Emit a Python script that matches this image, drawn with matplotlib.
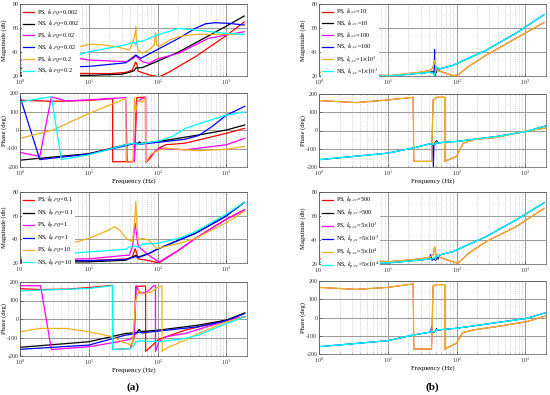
import matplotlib.pyplot as plt
from matplotlib.ticker import LogLocator, NullFormatter

plt.rcParams['font.family'] = ['Liberation Serif', 'DejaVu Serif']
plt.rcParams['mathtext.fontset'] = 'stix'
plt.rcParams['axes.unicode_minus'] = False

colors = ['#FF0000', '#000000', '#FF00FF', '#0000FF', '#EDB120', '#00FFFF']

labels_a1 = [r'PS, $k_{i,PQ}$=0.002', r'NS, $k_{i,PQ}$=0.002', r'PS, $k_{i,PQ}$=0.02',
             r'NS, $k_{i,PQ}$=0.02', r'PS, $k_{i,PQ}$=0.2', r'NS, $k_{i,PQ}$=0.2']
labels_a2 = [r'PS, $k_{p,PQ}$=0.1', r'NS, $k_{p,PQ}$=0.1', r'PS, $k_{p,PQ}$=1',
             r'NS, $k_{p,PQ}$=1', r'PS, $k_{p,PQ}$=10', r'NS, $k_{p,PQ}$=10']
labels_b1 = [r'PS, $k_{i,cc}$=10', r'NS, $k_{i,cc}$=10', r'PS, $k_{i,cc}$=100',
             r'NS, $k_{i,cc}$=100', r'PS, $k_{i,cc}$=1$\times10^{3}$', r'NS, $k_{i,cc}$=1$\times10^{3}$']
labels_b2 = [r'PS, $k_{p,cc}$=500', r'NS, $k_{p,cc}$=500', r'PS, $k_{p,cc}$=5$\times10^{3}$',
             r'NS, $k_{p,cc}$=5$\times10^{3}$', r'PS, $k_{p,cc}$=5$\times10^{4}$', r'NS, $k_{p,cc}$=5$\times10^{4}$']

# ---- (a) top : magnitude (dB) , points are (Hz, value)
a1_mag_red = [(1, 22.8), (5, 22.2), (20, 22), (35, 23), (43, 25), (48, 31.7), (50, 30), (52, 24), (57, 23.3),
              (75, 21), (105, 19.2), (150, 23.5), (203, 28), (354, 36), (961, 53), (1824, 65)]
a1_mag_black = [(1, 20.6), (10, 20.5), (30, 21.5), (38.7, 23), (46, 24.5), (48.3, 26.7), (60, 27), (97, 32),
                (203, 40), (354, 47.5), (961, 61), (1824, 70)]
a1_mag_magenta = [(1, 32.8), (1.5, 37), (2.2, 39), (4, 37), (10, 33.3), (34.6, 32), (38.7, 33), (45, 35),
                  (48.3, 37), (52, 35), (60, 32), (75, 30.5), (97, 34), (203, 39), (552, 51.4), (1824, 56.9)]
a1_mag_blue = [(1, 26.4), (10, 28), (34.6, 31), (38.7, 33), (48.3, 37.5), (57, 34.7), (97, 41.7), (203, 51.4),
               (354, 59.7), (500, 63.5), (689, 64.4), (1072, 63.9), (1824, 62.5)]
a1_mag_orange = [(1, 29.2), (2.2, 34.7), (4.7, 41.7), (10.2, 46.4), (16, 46), (24.8, 44.4), (38.7, 41.7),
                 (43.2, 47), (47.5, 56), (48.3, 61), (49.2, 50), (52, 41.7), (60, 38.9), (75, 41.7), (90, 46),
                 (93.8, 56), (97, 46), (105, 44.4), (150, 50), (203, 52.8), (354, 54.7), (1824, 54.7)]
a1_mag_cyan = [(1, 24.2), (10.2, 40.3), (34.6, 46), (38.7, 47.2), (46, 48), (48.3, 46), (50, 49), (60, 49),
               (97, 54), (203, 59.7), (354, 58.3), (961, 55.6), (1824, 54.7)]

# ---- (a) top : phase (deg)
a1_ph_red = [(1, 161), (3, 155), (10, 160), (22.2, 170), (22.3, -172), (45, -170), (47, -100), (50, 175),
             (67, 178), (67.1, -175), (75, -160), (90, -120), (104.5, -98), (130.6, -80), (253, -71),
             (395, -54), (1000, -18), (1855, 9)]
a1_ph_black = [(1, -163), (10, -128), (34.4, -80), (45, -75), (48, -68), (50, -80), (54, -65), (58, -72),
               (104.5, -62), (395, -27), (1000, 0), (1855, 27)]
a1_ph_magenta = [(1, -121), (1.94, -143), (2.86, 179), (4.71, 157), (10, 163), (34.4, 175), (36.3, -175),
                 (46, -170), (49, 150), (60, 170), (67, 175), (67.1, -175), (80, -140), (104.5, -98),
                 (253, -107), (1000, -80), (1855, -45)]
a1_ph_blue = [(1, 180), (1.94, -160), (10, -130), (34.4, -85), (48, -70), (52, -78), (104.5, -66), (253, -50),
              (395, -30), (617, 18), (1000, 80), (1855, 128)]
a1_ph_orange = [(1, -45), (3.02, 0), (10, 89), (34.4, 170), (35, -175), (44, -170), (46, 175), (48, 100),
                (52, 160), (60, 150), (66.5, 175), (67.1, -175), (80, -130), (104.5, -110), (130, -98),
                (253, -107), (395, -112), (1000, -104), (1855, -89)]
a1_ph_cyan = [(1, 152), (2.86, 180), (3.99, -160), (10, -134), (34.4, -80), (48, -70), (50, -78),
              (104.5, -59), (163, -36), (253, 9), (494, 45), (1000, 80), (1855, 98)]

# ---- (a) bottom : magnitude
a2_mag_red = [(1, 22.8), (10, 22), (34.6, 23.4), (43, 25), (47.2, 32), (50, 28), (52.1, 23.5), (75, 22),
              (104.7, 20), (203, 30.8), (354, 40.8), (961, 56.4), (1824, 64.9)]
a2_mag_black = [(1, 20.8), (10, 21), (34.6, 22.3), (38.7, 23.7), (48.3, 26.5), (52, 25), (75.2, 28), (97, 31.4),
                (203, 39.3), (354, 45), (961, 59.2), (1824, 71.2)]
a2_mag_magenta = [(1, 22.8), (10, 23.5), (34.6, 26.5), (38.7, 26.5), (43.2, 33.6), (47.2, 53.5), (52.1, 35),
                  (57, 32.2), (75, 26.5), (104.7, 20.8), (203, 30.8), (354, 40.8), (961, 56.4), (1824, 64.9)]
a2_mag_blue = [(1, 21.7), (10, 22), (34.6, 23), (38.7, 23.7), (48.3, 25.5), (52, 24.5), (75.2, 28), (97, 31.4),
               (203, 39.3), (354, 45), (961, 59.2), (1824, 71.2)]
a2_mag_orange = [(1, 23.7), (10, 40.8), (19.9, 48), (23.5, 50.7), (28, 48), (35, 40.8), (43.2, 38), (46.5, 55),
                 (48.3, 72), (50, 55), (52.1, 39.3), (60.2, 40.8), (75.2, 39.3), (97, 32.2), (203, 36.5),
                 (354, 40.8), (961, 53.5), (1824, 63.5)]
a2_mag_cyan = [(1, 24.5), (10, 29.4), (34.6, 31.6), (38.7, 33.6), (48.3, 34.5), (52, 33), (60.2, 36),
               (97, 36.5), (203, 40.8), (354, 46.4), (961, 60.7), (1824, 71.2)]

# ---- (a) bottom : phase
a2_ph_red = [(1, 164), (2, 159), (5, 162), (10, 170), (22.2, 182), (22.3, -165), (40, -160), (45.6, -100),
             (48.2, 175), (67, 178), (67.1, -175), (80, -150), (104.5, -110), (253, -60), (1000, -6), (1855, 12)]
a2_ph_black = [(1, -153), (10, -123), (34.4, -78), (45, -75), (50, -72), (53.9, -57), (58, -68),
               (104.5, -60), (395, -33), (1000, -6), (1855, 33)]
a2_ph_magenta = [(1, 180), (1.99, 180), (2.86, -165), (10, -150), (30, -120), (40, -110), (46, -90),
                 (49, 180), (55, 140), (70, 145), (88, 180), (93.4, 180), (93.5, -175), (104.5, -123),
                 (130.6, -96), (253, -78), (1000, -10), (1855, 12)]
a2_ph_blue = [(1, -164), (10, -141), (34.4, -87), (48, -80), (53.9, -70), (60, -75), (104.5, -65),
              (395, -42), (1000, -10), (1855, 30)]
a2_ph_orange = [(1, -69), (1.94, -51), (4.71, -51), (10, -69), (22.2, -96), (30, -123), (43, -141),
                (48.2, 100), (53.9, 155), (60, 137), (80, 145), (104.5, 175), (116, 178), (116.8, -175),
                (130.6, -160), (253, -114), (395, -78), (1000, -15), (1855, 12)]
a2_ph_cyan = [(1, 152), (10, 165), (20, 178), (22, 182), (22.1, -165), (40, -160), (46, -140), (48, -120),
              (52, -125), (55, -115), (60, -120), (104.5, -123), (253, -105), (395, -87), (1000, -24), (1855, 12)]

# ---- (b) top : magnitude (PS curves lie on top of each other, NS curves too)
b1_mag_ps = [(1, 23.1), (10.7, 20.3), (29.1, 23.1), (40.6, 24.5), (45.4, 27), (48, 33), (50.7, 26),
             (53.6, 24.5), (63.4, 23.1), (88.4, 20.3), (104.5, 20.8), (150, 28), (269, 37.3), (733, 51.4),
             (1884, 64.7)]
b1_mag_black = [(1, 20.3), (10.7, 20), (29.1, 22.3), (40.6, 23.1), (45, 24), (50, 22), (53.6, 26),
                (56.7, 25.9), (88.4, 28.8), (269, 41.5), (733, 55.7), (1884, 71.2)]
b1_mag_blue = [(1, 20.3), (10.7, 20), (29.1, 22.3), (40.6, 23.1), (47, 22), (48, 42), (48.5, 19), (50, 26),
               (56.7, 25.9), (88.4, 28.8), (269, 41.5), (733, 55.7), (1884, 71.2)]
b1_mag_ns = [(1, 20.3), (10.7, 20), (29.1, 22.3), (40.6, 23.1), (46, 22), (48, 19.4), (50, 28), (56.7, 25.9),
             (88.4, 28.8), (269, 41.5), (733, 55.7), (1884, 71.2)]

# ---- (b) top : phase
b1_ph_ps = [(1, 164), (3.5, 153), (10, 167), (23.4, 182), (23.9, -169), (43.3, -169), (45.6, 167), (51.2, 182),
            (67.5, 182), (67.6, -169), (100, -142), (115, -95), (125, -70), (175, -50), (380, -38),
            (1044, -2), (1971, 13)]
b1_ph_black = [(1, -160), (10, -124), (23.4, -96), (41, -73), (46, -80), (51, -55), (55, -68), (67.5, -64),
               (100, -60), (380, -33), (1044, -5), (1971, 25)]
b1_ph_blue = [(1, -160), (10, -124), (23.4, -96), (41, -73), (45, -75), (46, -205), (47, -80), (51, -70),
              (67.5, -64), (100, -60), (380, -33), (1044, -5), (1971, 25)]
b1_ph_ns = [(1, -160), (10, -124), (23.4, -96), (41, -73), (48, -75), (51, -70), (67.5, -64), (100, -60),
            (380, -33), (1044, -5), (1971, 25)]

# ---- (b) bottom : magnitude
b2_mag_ps = [(1, 24.2), (10.7, 22), (29.1, 24.2), (40.6, 25.6), (46, 28), (48, 34.4), (50, 28), (56.7, 25.6),
             (88.4, 21.9), (104.5, 20.6), (150, 29), (269, 38.6), (733, 51.1), (1884, 66.4)]
b2_mag_black = [(1, 21.4), (10.7, 21), (29.1, 23.3), (45, 24.5), (50, 23), (53, 26.5), (56.7, 27.5),
                (88.4, 30.3), (269, 42.8), (733, 56.7), (1884, 71.1)]
b2_mag_blue = [(1, 21.4), (10.7, 21), (29.1, 23.3), (40, 24), (42, 28), (44, 23), (48, 25), (52, 27),
               (54, 24), (56.7, 27.5), (88.4, 30.3), (269, 42.8), (733, 56.7), (1884, 71.1)]
b2_mag_ns = [(1, 21.4), (10.7, 21), (29.1, 23.3), (45, 24.5), (56.7, 27.5), (88.4, 30.3), (269, 42.8),
             (733, 56.7), (1884, 71.1)]

# ---- (b) bottom : phase
b2_ph_ps = [(1, 165), (3.5, 154), (10, 165), (23.4, 184), (23.9, -173), (43.3, -173), (45.6, 173), (51.2, 180),
            (67.5, 180), (67.6, -173), (100, -141), (115, -100), (125, -82), (175, -68), (380, -50),
            (1044, -23), (1971, 8)]
b2_ph_black = [(1, -160), (10, -127), (23.4, -96), (43.3, -78), (48, -78), (51, -60), (54, -70), (67.5, -65),
               (100, -59), (380, -28), (1044, -5), (1971, 26)]
b2_ph_blue = [(1, -160), (10, -127), (23.4, -96), (42, -80), (43.5, -50), (45, -82), (48, -78), (51, -68),
              (67.5, -65), (100, -59), (380, -28), (1044, -5), (1971, 26)]
b2_ph_ns = [(1, -160), (10, -127), (23.4, -96), (43.3, -78), (48, -78), (51, -68), (67.5, -65), (100, -59),
            (380, -28), (1044, -5), (1971, 26)]


def style(ax, ylim, yticks, ylabel):
    ax.set_xscale('log')
    ax.set_xlim(1, 2000)
    ax.set_ylim(*ylim)
    ax.set_yticks(yticks)
    ax.xaxis.set_minor_locator(LogLocator(base=10, subs=range(2, 10)))
    ax.xaxis.set_minor_formatter(NullFormatter())
    ax.grid(True, which='major', color='#9a9a9a', lw=0.7)
    ax.grid(True, which='minor', color='#b5b5b5', lw=0.5, ls=':')
    ax.set_axisbelow(True)
    ax.tick_params(which='both', direction='in', labelsize=4.3, pad=1.2, length=2, width=0.4, colors='#333333')
    ax.tick_params(which='minor', length=1)
    for s in ax.spines.values():
        s.set_color('#555555')
        s.set_linewidth(0.5)
    ax.set_ylabel(ylabel, fontsize=4.8)
    ax.yaxis.set_label_coords(-0.058, 0.5)


def draw(ax, curves, widths):
    for pts, c, w in zip(curves, colors, widths):
        ax.plot([p[0] for p in pts], [p[1] for p in pts], color=c, lw=w)


fig = plt.figure(figsize=(5.5, 3.95), dpi=100)
W, H = 550.0, 395.0


def make_ax(x0, x1, y0, y1):
    return fig.add_axes([x0 / W, 1 - y1 / H, (x1 - x0) / W, (y1 - y0) / H])


w_a = [0.9] * 6
w_b = [0.6, 0.6, 0.6, 0.8, 1.0, 1.0]   # lower curves hidden under the last two

panels = [
    ((20, 247), (4, 76), (93, 167),
     [a1_mag_red, a1_mag_black, a1_mag_magenta, a1_mag_blue, a1_mag_orange, a1_mag_cyan],
     [a1_ph_red, a1_ph_black, a1_ph_magenta, a1_ph_blue, a1_ph_orange, a1_ph_cyan], labels_a1, w_a),
    ((20, 247), (192, 263), (282, 356),
     [a2_mag_red, a2_mag_black, a2_mag_magenta, a2_mag_blue, a2_mag_orange, a2_mag_cyan],
     [a2_ph_red, a2_ph_black, a2_ph_magenta, a2_ph_blue, a2_ph_orange, a2_ph_cyan], labels_a2, w_a),
    ((319, 546), (4, 76), (94, 167),
     [b1_mag_ps, b1_mag_black, b1_mag_ps, b1_mag_blue, b1_mag_ps, b1_mag_ns],
     [b1_ph_ps, b1_ph_black, b1_ph_ps, b1_ph_blue, b1_ph_ps, b1_ph_ns], labels_b1, w_b),
    ((319, 546), (192, 264), (281, 354),
     [b2_mag_ps, b2_mag_black, b2_mag_ps, b2_mag_blue, b2_mag_ps, b2_mag_ns],
     [b2_ph_ps, b2_ph_black, b2_ph_ps, b2_ph_blue, b2_ph_ps, b2_ph_ns], labels_b2, w_b),
]

for (xl, xr), (my0, my1), (py0, py1), mags, phs, labs, ws in panels:
    axm = make_ax(xl, xr, my0, my1)
    draw(axm, mags, ws)
    style(axm, (20, 80), [20, 40, 60, 80], 'Magnitude (db)')
    leg = axm.legend(labs, loc='upper left', fontsize=4.5, labelspacing=0.2, handlelength=1.8,
                     handletextpad=0.4, borderaxespad=0.3, borderpad=0.2, frameon=True,
                     fancybox=False, framealpha=1)
    leg.get_frame().set_edgecolor('none')
    for h in leg.get_lines():
        h.set_linewidth(0.9)
    axp = make_ax(xl, xr, py0, py1)
    draw(axp, phs, ws)
    style(axp, (-200, 200), [-200, -100, 0, 100, 200], 'Phase (deg)')
    axp.set_xlabel('Frequency (Hz)', fontsize=5, labelpad=0.5)

fig.text(133 / W, 1 - 387 / H, '(a)', ha='center', va='center', fontsize=8, fontweight='bold')
fig.text(432 / W, 1 - 387 / H, '(b)', ha='center', va='center', fontsize=8, fontweight='bold')

fig.savefig('out.png', dpi=100)
